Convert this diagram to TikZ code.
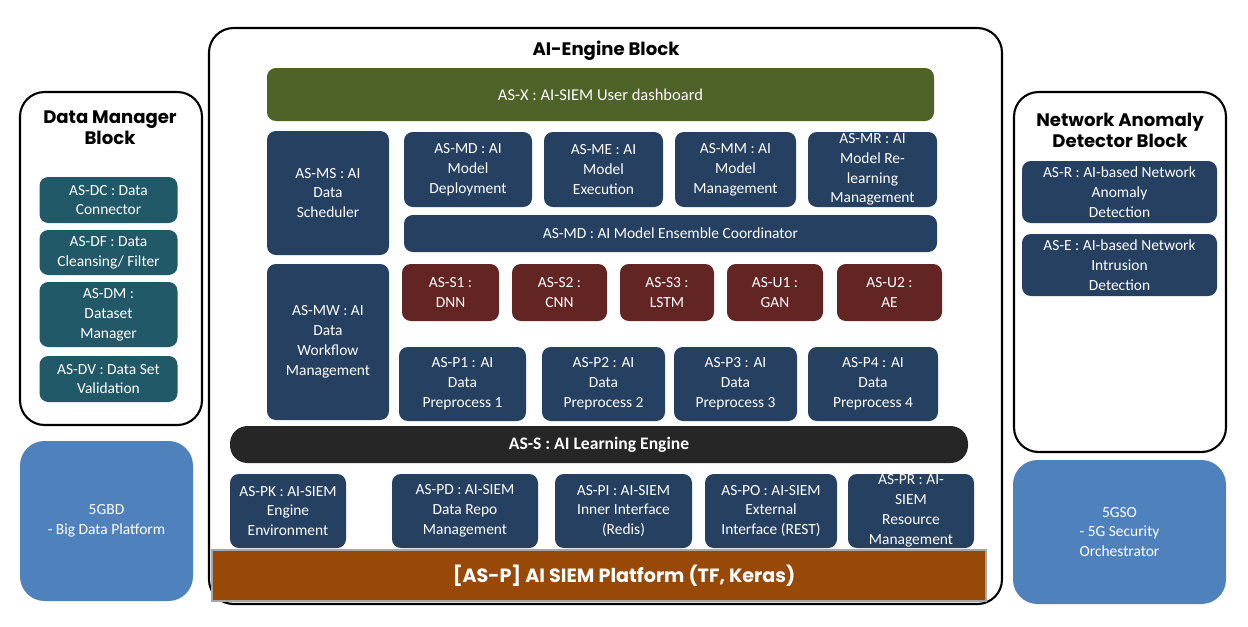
\documentclass[tikz,border=0pt]{standalone}
\usepackage{fontspec}
\setmainfont{Carlito}
\newfontfamily\ttlfont{Poppins}
\definecolor{navy}{HTML}{254061}
\definecolor{dmteal}{HTML}{215968}
\definecolor{olivebar}{HTML}{4F6228}
\definecolor{redbox}{HTML}{632523}
\definecolor{skyblk}{HTML}{4F81BD}
\definecolor{platbrown}{HTML}{984807}
\definecolor{darkbar}{HTML}{262626}
\tikzset{
  sz/.style 2 args={minimum width=#1*0.02cm, minimum height=#2*0.02cm},
  blk/.style={draw=black, line width=1.2pt, rounded corners=14pt, fill=white, inner sep=0pt},
  ttl/.style={font=\ttlfont\bfseries\fontsize{10.3}{12}\selectfont, align=center},
  box/.style={fill=navy, rounded corners=5pt, text=white, align=center, inner sep=0pt,
    font=\fontsize{8.8}{11.3}\selectfont},
  bigbox/.style={box, fill=skyblk, rounded corners=14pt},
}
\begin{document}
\begin{tikzpicture}[x=0.02cm,y=-0.02cm]
  \useasboundingbox (0,0) rectangle (1248,626);
  % blocks
  \node[blk, sz={793}{576}] (engine) at (605.5,316) {};
  \node[blk, sz={182}{333}] (dmblk) at (111,258.5) {};
  \node[blk, sz={212}{360}] (nadblk) at (1120,272) {};
  \node[ttl] (enginettl) at (606,51) {AI-Engine Block};
  \node[ttl] (dmttl) at (110,128) {Data Manager\\Block};
  \node[ttl] (nadttl) at (1120,130) {Network Anomaly\\Detector Block};
  % data manager
  \foreach \n/\cy/\h/\t in {dc/200/46/{AS-DC : Data\\Connector},
      df/252.5/45/{AS-DF : Data\\Cleansing/ Filter},
      dm/314.5/65/{AS-DM :\\Dataset\\Manager},
      dv/379/46/{AS-DV : Data Set\\Validation}}
    \node[box, fill=dmteal, sz={138}{\h}] (\n) at (108.5,\cy) {\t};
  \node[bigbox, sz={173}{160}] (bd) at (106.5,521) {5GBD\\- Big Data Platform};
  % network anomaly detector
  \node[box, sz={195}{62}] (asr) at (1119.5,192) {AS-R : AI-based Network\\Anomaly\\Detection};
  \node[box, sz={195}{62}] (ase) at (1119.5,265) {AS-E : AI-based Network\\Intrusion\\Detection};
  \node[bigbox, sz={213}{144}] (gso) at (1119.5,532) {5GSO\\- 5G Security\\Orchestrator};
  % AI engine
  \node[box, fill=olivebar, sz={667}{53}, font=\fontsize{9.4}{11.3}\selectfont] (asx) at (600.5,94.5) {AS-X : AI-SIEM User dashboard};
  \node[box, sz={122}{124}] (ms) at (328,193) {AS-MS : AI\\Data\\Scheduler};
  \node[box, sz={122}{156}] (mw) at (328,342) {AS-MW : AI\\Data\\Workflow\\Management};
  \foreach \n/\cx/\w/\t in {md/468/128/{AS-MD : AI\\Model\\Deployment},
      me/603.5/119/{AS-ME : AI\\Model\\Execution},
      mm/735.5/121/{AS-MM : AI\\Model\\Management},
      mr/872.5/129/{AS-MR : AI\\Model Re-\\learning\\Management}}
    \node[box, sz={\w}{75}] (\n) at (\cx,169.5) {\t};
  \node[box, sz={533}{37}] (ens) at (670.5,233.5) {AS-MD : AI Model Ensemble Coordinator};
  \foreach \n/\cx/\w/\t in {s1/450.5/97/{AS-S1 :\\DNN}, s2/559.5/95/{AS-S2 :\\CNN},
      s3/667/94/{AS-S3 :\\LSTM}, u1/775/96/{AS-U1 :\\GAN}, u2/889.5/105/{AS-U2 :\\AE}}
    \node[box, fill=redbox, sz={\w}{57}] (\n) at (\cx,292.5) {\t};
  \foreach \i/\cx/\w in {1/462.5/127, 2/603.5/123, 3/735.5/123, 4/873/130}
    \node[box, sz={\w}{74}] (p\i) at (\cx,384) {AS-P\i{} : AI\\Data\\Preprocess \i};
  \node[box, fill=darkbar, sz={738}{37}, rounded corners=10pt,
    font=\bfseries\fontsize{10}{11.3}\selectfont] (learn) at (599,444.5) {AS-S : AI Learning Engine};
  \foreach \n/\cx/\w/\t in {pk/288/116/{AS-PK : AI-SIEM\\Engine\\Environment},
      pd/465/146/{AS-PD : AI-SIEM\\Data Repo\\Management},
      pi/623.5/137/{AS-PI : AI-SIEM\\Inner Interface\\(Redis)},
      po/771/132/{AS-PO : AI-SIEM\\External\\Interface (REST)},
      pr/911/126/{AS-PR : AI-\\SIEM\\Resource\\Management}}
    \node[box, sz={\w}{74}] (\n) at (\cx,511) {\t};
  \node[box, fill=platbrown, draw=black!35, line width=1pt, rounded corners=0pt, sz={774}{51}] (plat) at (599,575.5) {};
  \node[text=white, font=\ttlfont\bfseries\fontsize{10.9}{12}\selectfont] (plattxt) at (624,575.5) {[AS-P] AI SIEM Platform (TF, Keras)};
\end{tikzpicture}
\end{document}
